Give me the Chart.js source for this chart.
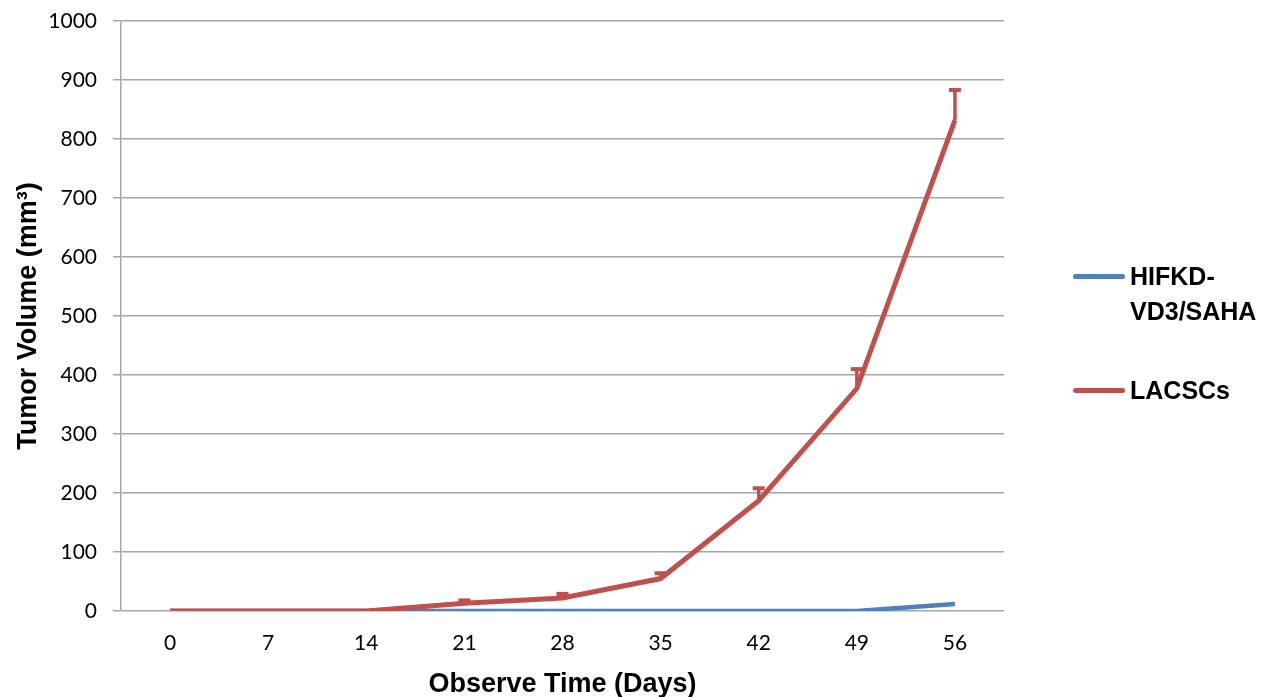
<!DOCTYPE html>
<html>
<head>
<meta charset="utf-8">
<script src="https://cdn.jsdelivr.net/npm/chart.js@4.4.1/dist/chart.umd.min.js"></script>
<style>
  html, body { margin: 0; padding: 0; background: #fff; }
  #wrap { position: relative; width: 1279px; height: 697px; }
  #legend { position: absolute; left: 1072px; top: 259px; font-family: "Liberation Sans", Arial, sans-serif; font-weight: bold; font-size: 25px; color: #000; }
  .item { position: relative; padding-left: 58px; line-height: 35px; }
  .item .swatch { position: absolute; left: 1px; top: 15px; width: 52px; height: 5px; border-radius: 3px; }
</style>
</head>
<body>
<div id="wrap">
  <canvas id="tumorChart" width="1279" height="697"></canvas>
  <div id="legend"></div>
</div>
<script>
const days = ['0', '7', '14', '21', '28', '35', '42', '49', '56'];
const hifkdValues = [0, 0, 0, 0, 0, 0, 0, 0, 12];
const lacscValues = [0, 0, 0, 13, 22, 55, 187, 377, 832];
const lacscErrors = [0, 0, 0, 5, 7, 9, 21, 33, 51];
const yTicks = [0, 100, 200, 300, 400, 500, 600, 700, 800, 900, 1000];

// upward error bars for the LACSCs series
const errorBars = {
    id: 'errorBars',
    afterDatasetsDraw(chart) {
        const ctx = chart.ctx;
        const x = chart.scales.x;
        const y = chart.scales.y;
        ctx.save();
        ctx.strokeStyle = '#C0504D';
        ctx.lineCap = 'butt';
        lacscValues.forEach((v, i) => {
            const err = lacscErrors[i];
            if (!err) return;
            const px = x.getPixelForValue(i);
            const y0 = y.getPixelForValue(v);
            const y1 = y.getPixelForValue(v + err);
            ctx.lineWidth = 3.5;
            ctx.beginPath();
            ctx.moveTo(px, y0);
            ctx.lineTo(px, y1);
            ctx.stroke();
            ctx.lineWidth = 4;
            ctx.beginPath();
            ctx.moveTo(px - 6, y1);
            ctx.lineTo(px + 6, y1);
            ctx.stroke();
        });
        ctx.restore();
    }
};

const ctx = document.getElementById('tumorChart').getContext('2d');
const tumorChart = new Chart(ctx, {
    type: 'line',
    data: {
        labels: days,
        datasets: [
            {
                label: 'HIFKD-\nVD3/SAHA',
                data: hifkdValues,
                borderColor: '#4F81BD',
                backgroundColor: '#4F81BD',
                borderWidth: 4.5,
                pointRadius: 0,
                tension: 0,
                order: 2
            },
            {
                label: 'LACSCs',
                data: lacscValues,
                borderColor: '#C0504D',
                backgroundColor: '#C0504D',
                borderWidth: 5,
                pointRadius: 0,
                tension: 0,
                order: 1
            }
        ]
    },
    options: {
        responsive: false,
        animation: false,
        layout: {
            padding: { top: 21, right: 275, bottom: 0, left: 0 }
        },
        scales: {
            x: {
                offset: true,
                grid: { display: false },
                border: { display: false },
                ticks: {
                    padding: 12,
                    color: '#000',
                    font: { family: 'Lato', size: 21 }
                },
                title: {
                    display: true,
                    text: 'Observe Time (Days)',
                    color: '#000',
                    padding: { top: 4, bottom: -4 },
                    font: { family: 'Liberation Sans', size: 27, weight: 'bold' }
                },
                afterFit(scale) { scale.height = 86; }
            },
            y: {
                min: 0,
                max: 1000,
                afterBuildTicks(scale) { scale.ticks = yTicks.map(v => ({ value: v })); },
                grid: {
                    color: '#A6A6A6',
                    lineWidth: 1.5,
                    tickLength: 8
                },
                border: { color: '#A6A6A6', width: 1.5 },
                ticks: {
                    padding: 16,
                    color: '#000',
                    font: { family: 'Lato', size: 21 },
                    callback: (v) => String(v)
                },
                title: {
                    display: true,
                    text: 'Tumor Volume (mm³)',
                    color: '#000',
                    padding: { top: 12, bottom: 4 },
                    font: { family: 'Liberation Sans', size: 27, weight: 'bold' }
                },
                afterFit(scale) {
                    scale.width = 121;
                    scale.paddingTop = 0;
                    scale.paddingBottom = 0;
                }
            }
        },
        plugins: {
            legend: { display: false },
            tooltip: { enabled: false }
        }
    },
    plugins: [errorBars]
});

// legend on the right, labels may span two lines
const legendBox = document.getElementById('legend');
const gaps = [0, 44];
tumorChart.data.datasets.forEach((ds, i) => {
    const item = document.createElement('div');
    item.className = 'item';
    item.style.marginTop = gaps[i] + 'px';
    item.innerHTML = '<span class="swatch" style="background:' + ds.borderColor + '"></span>' +
        ds.label.replace('\n', '<br>');
    legendBox.appendChild(item);
});
</script>
</body>
</html>
